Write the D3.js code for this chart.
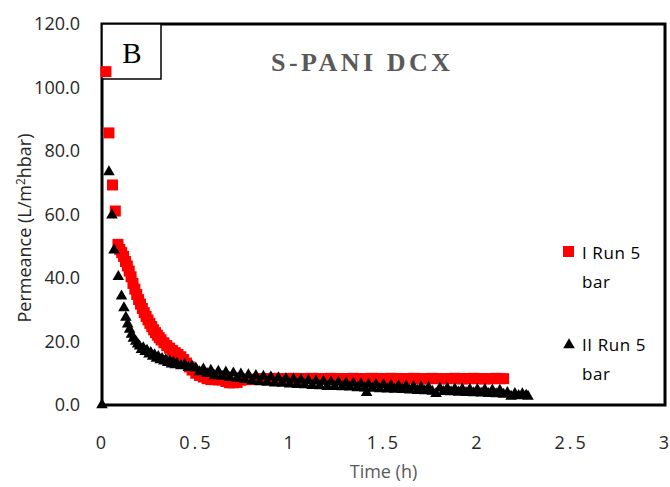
<!DOCTYPE html>
<html>
<head>
<meta charset="utf-8">
<script src="https://cdn.jsdelivr.net/npm/d3@7"></script>
<style>
  body { margin: 0; background: #fff; }
  svg { display: block; font-family: "Open Sans", sans-serif; }
</style>
</head>
<body>
<div id="chart"></div>
<script>
const seriesNames = [["I Run 5", "bar"], ["II Run 5", "bar"]];
const xTicks = [0, 0.5, 1, 1.5, 2, 2.5, 3];
const yTicks = [0, 20, 40, 60, 80, 100, 120];

// [time (h), permeance]
const runI = [[0.021,105.0],[0.037,85.7],[0.056,69.3],[0.071,61.1],[0.085,50.6],[0.095,49.0],[0.105,48.0],[0.115,46.8],[0.125,45.2],[0.135,43.8],[0.145,42.2],[0.155,40.4],[0.165,38.3],[0.175,36.5],[0.185,34.8],[0.195,33.2],[0.205,31.8],[0.215,30.4],[0.225,29.1],[0.235,27.9],[0.245,26.8],[0.255,25.7],[0.265,24.7],[0.275,23.7],[0.285,22.8],[0.295,22.0],[0.305,21.2],[0.315,20.5],[0.33,19.6],[0.345,18.7],[0.36,17.9],[0.375,17.2],[0.39,16.5],[0.405,15.9],[0.42,15.2],[0.435,14.3],[0.45,13.2],[0.465,12.0],[0.48,11.0],[0.50,10.0],[0.52,9.3],[0.54,8.8],[0.56,8.3],[0.58,8.0],[0.60,8.0],[0.62,7.9],[0.64,7.9],[0.66,7.4],[0.68,7.0],[0.70,7.0],[0.72,7.1],[0.74,7.8],[0.76,8.0],[0.78,8.0],[0.80,8.1],[0.82,8.1],[0.84,8.2],[0.86,8.3],[0.88,8.2],[0.90,8.3],[0.92,8.4],[0.94,8.3],[0.96,8.2],[0.98,8.3],[1.00,8.3],[1.02,8.4],[1.04,8.3],[1.06,8.2],[1.08,8.3],[1.10,8.3],[1.12,8.4],[1.14,8.3],[1.16,8.3],[1.18,8.2],[1.20,8.3],[1.22,8.4],[1.24,8.3],[1.26,8.3],[1.28,8.2],[1.30,8.3],[1.32,8.3],[1.34,8.4],[1.36,8.3],[1.38,8.2],[1.40,8.3],[1.42,8.3],[1.44,8.4],[1.46,8.3],[1.48,8.3],[1.50,8.2],[1.52,8.3],[1.54,8.4],[1.56,8.3],[1.58,8.3],[1.60,8.2],[1.62,8.3],[1.64,8.3],[1.66,8.4],[1.68,8.3],[1.70,8.2],[1.72,8.3],[1.74,8.3],[1.76,8.4],[1.78,8.3],[1.80,8.3],[1.82,8.2],[1.84,8.3],[1.86,8.3],[1.88,8.4],[1.90,8.3],[1.92,8.2],[1.94,8.3],[1.96,8.3],[1.98,8.4],[2.00,8.3],[2.02,8.3],[2.04,8.2],[2.06,8.3],[2.08,8.3],[2.10,8.4],[2.12,8.3],[2.14,8.3]];

const runII = [[0.0,0.0],[0.037,73.4],[0.053,59.8],[0.064,48.8],[0.087,40.4],[0.104,34.3],[0.117,30.6],[0.127,27.6],[0.137,25.5],[0.147,23.8],[0.157,22.2],[0.167,21.0],[0.18,20.0],[0.19,19.2],[0.20,18.5],[0.21,17.4],[0.22,18.0],[0.23,16.8],[0.24,17.2],[0.25,16.0],[0.26,16.5],[0.27,15.3],[0.28,15.8],[0.29,14.7],[0.30,15.2],[0.31,14.2],[0.32,14.6],[0.33,13.8],[0.34,14.2],[0.35,13.3],[0.36,13.8],[0.37,12.9],[0.38,13.4],[0.39,12.6],[0.40,13.0],[0.42,12.3],[0.44,12.8],[0.46,11.8],[0.48,12.2],[0.50,11.6],[0.52,10.4],[0.54,11.3],[0.56,9.9],[0.58,10.9],[0.60,9.2],[0.62,10.6],[0.64,9.0],[0.66,10.3],[0.68,8.6],[0.70,10.0],[0.72,8.4],[0.74,9.7],[0.76,8.0],[0.78,9.5],[0.80,7.6],[0.82,9.2],[0.84,7.3],[0.86,9.0],[0.88,7.1],[0.90,8.8],[0.92,6.9],[0.94,8.5],[0.96,6.8],[0.98,8.3],[1.00,6.6],[1.02,8.1],[1.04,6.4],[1.06,7.9],[1.08,6.3],[1.10,7.7],[1.12,6.1],[1.14,7.5],[1.16,6.0],[1.18,7.4],[1.20,5.8],[1.22,7.2],[1.24,5.8],[1.26,7.1],[1.28,5.7],[1.30,6.9],[1.32,5.6],[1.34,6.8],[1.36,5.4],[1.38,6.6],[1.40,5.3],[1.41,3.9],[1.42,6.5],[1.44,5.2],[1.46,6.4],[1.48,5.1],[1.50,6.3],[1.52,5.0],[1.54,6.1],[1.56,4.9],[1.58,6.0],[1.60,4.8],[1.62,5.9],[1.64,4.7],[1.66,5.8],[1.68,4.5],[1.70,5.6],[1.72,4.4],[1.74,5.5],[1.76,4.3],[1.78,3.6],[1.80,5.3],[1.82,4.2],[1.84,5.2],[1.86,4.1],[1.88,5.1],[1.90,4.0],[1.92,5.0],[1.94,3.9],[1.96,4.9],[1.98,3.8],[2.00,4.8],[2.02,3.7],[2.04,4.8],[2.06,3.6],[2.08,4.7],[2.10,3.5],[2.12,4.6],[2.14,3.3],[2.16,3.9],[2.18,2.7],[2.20,3.6],[2.22,2.9],[2.24,3.5],[2.26,3.0],[2.27,2.7]];

const width = 670, height = 487;
const margin = { top: 24, right: 5, bottom: 82, left: 102 };

const svg = d3.select("#chart")
    .append("svg")
    .attr("width", width)
    .attr("height", height);

const x = d3.scaleLinear()
    .domain([0, 3])
    .range([margin.left, width - margin.right]);

const y = d3.scaleLinear()
    .domain([0, 120])
    .range([height - margin.bottom, margin.top]);

// axes (labels only, frame drawn separately)
const xAxis = svg.append("g")
    .attr("transform", `translate(0,${y(0)})`)
    .call(d3.axisBottom(x).tickValues(xTicks).tickSize(0).tickPadding(31).tickFormat(d => String(d)));
xAxis.select(".domain").remove();
xAxis.selectAll("text")
    .attr("font-size", 18)
    .attr("font-family", "Open Sans, sans-serif")
    .attr("fill", "#262626")
    .style("letter-spacing", "3px");

const yAxis = svg.append("g")
    .attr("transform", `translate(${x(0)},0)`)
    .call(d3.axisLeft(y).tickValues(yTicks).tickSize(0).tickPadding(22).tickFormat(d3.format(".1f")));
yAxis.select(".domain").remove();
yAxis.selectAll("text")
    .attr("font-size", 18)
    .attr("font-family", "Open Sans, sans-serif")
    .attr("fill", "#262626");

// plot frame
svg.append("rect")
    .attr("x", x(0))
    .attr("y", y(120))
    .attr("width", x(3) - x(0))
    .attr("height", y(0) - y(120))
    .attr("fill", "none")
    .attr("stroke", "#000")
    .attr("stroke-width", 3);

// panel label box
svg.append("rect")
    .attr("x", x(0))
    .attr("y", y(120))
    .attr("width", 59)
    .attr("height", 55)
    .attr("fill", "#fff")
    .attr("stroke", "#000")
    .attr("stroke-width", 1.5);
svg.append("text")
    .attr("x", x(0) + 30)
    .attr("y", 63)
    .attr("text-anchor", "middle")
    .attr("font-family", "Liberation Serif, Times New Roman, serif")
    .attr("font-size", 29)
    .text("B");

svg.append("text")
    .attr("x", 271)
    .attr("y", 71)
    .attr("font-family", "Liberation Serif, Times New Roman, serif")
    .attr("font-weight", "bold")
    .attr("font-size", 26)
    .attr("fill", "#595959")
    .style("letter-spacing", "3.5px")
    .text("S-PANI DCX");

// series
const sq = 11;
svg.append("g")
    .selectAll("rect")
    .data(runI)
    .join("rect")
    .attr("x", d => x(d[0]) - sq / 2)
    .attr("y", d => y(d[1]) - sq / 2)
    .attr("width", sq)
    .attr("height", sq)
    .attr("fill", "#ff0000");

const tri = d3.symbol().type(d3.symbolTriangle).size(58);
svg.append("g")
    .selectAll("path")
    .data(runII)
    .join("path")
    .attr("d", tri)
    .attr("transform", d => `translate(${x(d[0])},${y(d[1])})`)
    .attr("fill", "#000");

// axis titles
svg.append("text")
    .attr("x", (x(0) + x(3)) / 2)
    .attr("y", 478)
    .attr("text-anchor", "middle")
    .attr("font-size", 18)
    .attr("fill", "#595959")
    .text("Time (h)");

const yTitle = svg.append("text")
    .attr("transform", "translate(31,228) rotate(-90)")
    .attr("text-anchor", "middle")
    .attr("font-size", 18)
    .attr("fill", "#262626");
yTitle.append("tspan").text("Permeance (L/m");
yTitle.append("tspan").attr("font-size", 12).attr("dy", -6).text("2");
yTitle.append("tspan").attr("dy", 6).text("hbar)");

// legend
const legend = svg.append("g");
legend.append("rect")
    .attr("x", 563).attr("y", 246)
    .attr("width", sq).attr("height", sq)
    .attr("fill", "#ff0000");
legend.append("path")
    .attr("d", tri)
    .attr("transform", "translate(569,345)")
    .attr("fill", "#000");

const legendY = [259, 351];
seriesNames.forEach((lines, i) => {
    const t = legend.append("text")
        .attr("font-size", 17)
        .attr("fill", "#000")
        .style("letter-spacing", "0.6px");
    lines.forEach((l, j) => {
        t.append("tspan")
            .attr("x", 582)
            .attr("y", legendY[i] + j * 29)
            .text(l);
    });
});
</script>
</body>
</html>
